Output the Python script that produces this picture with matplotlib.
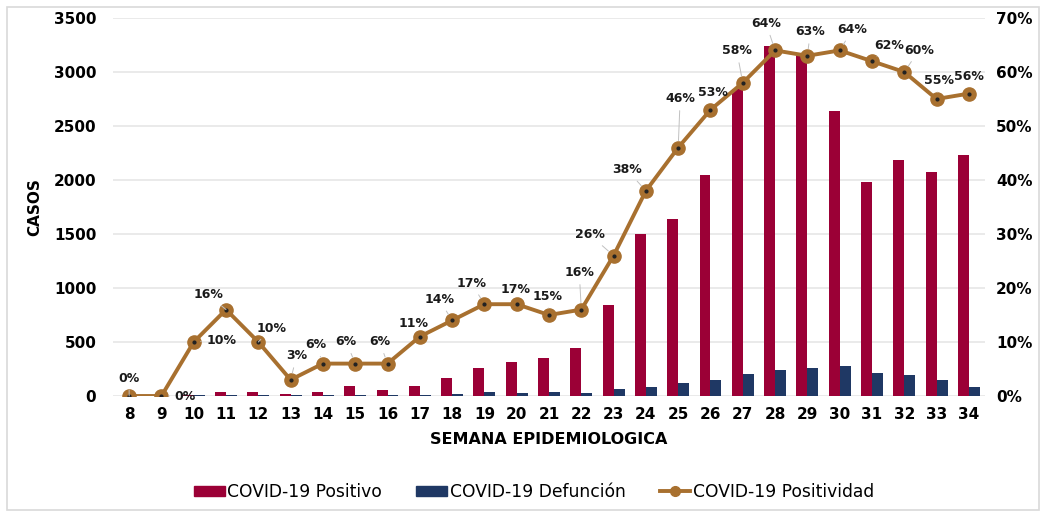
import matplotlib.pyplot as plt
import numpy as np
from matplotlib.patches import Rectangle
from matplotlib.lines import Line2D

semanas = list(range(8, 35))
positivos = [0, 0, 5, 37, 37, 15, 35, 90, 55, 90, 165, 260, 315, 350, 448,
             846, 1500, 1640, 2050, 2840, 3240, 3160, 2635, 1985, 2185, 2077, 2235]
defunciones = [0, 0, 5, 8, 8, 8, 8, 8, 10, 12, 15, 37, 25, 35, 30,
               68, 87, 124, 148, 207, 244, 263, 275, 216, 198, 148, 87]
positividad = [0, 0, 10, 16, 10, 3, 6, 6, 6, 11, 14, 17, 17, 15, 16,
               26, 38, 46, 53, 58, 64, 63, 64, 62, 60, 55, 56]
# label offsets (pixels)
lab_dx = [0, 24, 28, -18, 13, 6, -7, -9, -8, -6, -13, -13, -1, -1, -2,
          -24, -19, 2, 2, -6, -9, 3, 13, 17, 15, 2, 0]
lab_dy = [18, 0, 2, 15, 14, 24, 19, 22, 22, 13, 21, 21, 15, 19, 37,
          21, 21, 49, 17, 32, 27, 24, 21, 16, 22, 19, 17]

rojo = '#9b0036'
azul = '#1f3864'
cafe = '#a8702f'
fuente = 'DejaVu Sans'

fig = plt.figure(figsize=(10.43, 5.16), dpi=100)
fig.patches.append(Rectangle((7 / 1043, 6 / 516), 1032 / 1043, 503 / 516,
                             transform=fig.transFigure, fill=False,
                             edgecolor='#d9d9d9', lw=1.2))
ax = fig.add_axes([113 / 1043, 1 - 396 / 516, 872 / 1043, 378 / 516])
ax2 = ax.twinx()

x = np.array(semanas)
ax.bar(x - 0.17, positivos, width=0.34, color=rojo, zorder=2)
ax.bar(x + 0.17, defunciones, width=0.34, color=azul, zorder=2)
ax.set_xlim(7.5, 34.5)
ax.set_ylim(0, 3500)
ax.set_yticks(range(0, 3501, 500))
ax.grid(axis='y', color='#e6e6e6', lw=1.2, zorder=0)
ax.set_axisbelow(True)
ax.set_xticks(semanas)
ax.tick_params(length=0, labelsize=11, pad=8)
ax.tick_params(axis='y', pad=12)
for lab in ax.get_xticklabels() + ax.get_yticklabels():
    lab.set_fontweight('bold')
    lab.set_family(fuente)
ax.set_ylabel('CASOS', fontsize=11, fontweight='bold', family=fuente, labelpad=8)
ax.set_xlabel('SEMANA EPIDEMIOLOGICA', fontsize=11.5, fontweight='bold',
              family=fuente, labelpad=7)

ax2.plot(x, positividad, color=cafe, lw=2.8, marker='o', ms=9.5,
         markerfacecolor=cafe, markeredgecolor=cafe, zorder=3)
ax2.plot(x, positividad, ls='none', marker='o', ms=2, color='#222222', zorder=4)
ax2.set_ylim(0, 70)
ax2.set_yticks(range(0, 71, 10))
ax2.set_yticklabels([f'{v}%' for v in range(0, 71, 10)])
ax2.tick_params(length=0, labelsize=11, pad=8)
for lab in ax2.get_yticklabels():
    lab.set_fontweight('bold')
    lab.set_family(fuente)

for xi, p, dx, dy in zip(x, positividad, lab_dx, lab_dy):
    lejos = (dx * dx + dy * dy) > 300
    ax2.annotate(f'{p}%', (xi, p), xytext=(dx, dy), textcoords='offset pixels',
                 ha='center', va='center', fontsize=9, fontweight='bold',
                 family=fuente, color='#1a1a1a', zorder=5,
                 arrowprops=dict(arrowstyle='-', color='#c0c0c0', lw=0.7,
                                 shrinkA=2, shrinkB=5) if lejos else None)

for a in (ax, ax2):
    for s in a.spines.values():
        s.set_visible(False)

handles = [Rectangle((0, 0), 1, 1, color=rojo),
           Rectangle((0, 0), 1, 1, color=azul),
           Line2D([], [], color=cafe, lw=2.8, marker='o', ms=7)]
fig.legend(handles, ['COVID-19 Positivo', 'COVID-19 Defunción', 'COVID-19 Positividad'],
           loc='center', bbox_to_anchor=(534 / 1043, 1 - 492 / 516), ncol=3,
           frameon=False, prop={'family': fuente, 'size': 12.3},
           handlelength=1.8, handleheight=0.6, handletextpad=0.15, columnspacing=2.0)

fig.savefig('out.png', dpi=100)
